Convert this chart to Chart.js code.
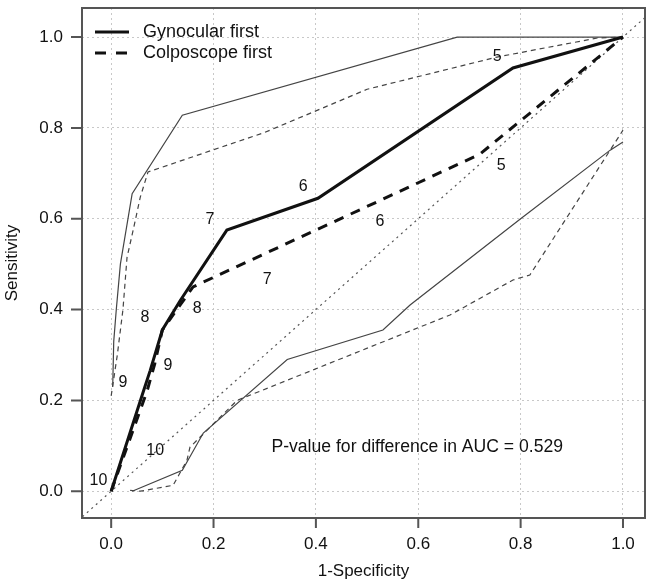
<!doctype html>
<html lang="en">
  <head>
    <meta charset="utf-8">
    <script src="https://cdn.jsdelivr.net/npm/chart.js@4.4.0/dist/chart.umd.min.js"></script>
    <title>ROC</title>
    <style>
      body { margin: 0; background: #fff; }
      #wrap { width: 650px; height: 584px; }
    </style>
  </head>
  <body>
    <div id="wrap"><canvas id="roc" width="650" height="584"></canvas></div>

  <script>
    // main ROC curves
    let gynX = [0, 0.063, 0.076, 0.1, 0.135, 0.226, 0.404, 0.785, 1];
    let gynY = [0, 0.22, 0.265, 0.355, 0.42, 0.575, 0.645, 0.932, 1];
    let colX = [0, 0.07, 0.085, 0.1, 0.16, 0.3, 0.525, 0.72, 1];
    let colY = [0, 0.22, 0.28, 0.355, 0.45, 0.523, 0.64, 0.742, 1];

    // confidence bands
    let gynUpX = [0.003, 0.005, 0.01, 0.018, 0.041, 0.139, 0.676, 1];
    let gynUpY = [0.23, 0.33, 0.4, 0.5, 0.655, 0.828, 1, 1];
    let colUpX = [0, 0.012, 0.023, 0.031, 0.043, 0.057, 0.072, 0.3, 0.5, 0.754, 0.95, 1];
    let colUpY = [0.21, 0.3, 0.4, 0.515, 0.575, 0.648, 0.703, 0.79, 0.885, 0.956, 0.998, 1];
    let gynLoX = [0.041, 0.139, 0.18, 0.344, 0.531, 0.584, 0.8, 0.975, 1];
    let gynLoY = [0, 0.046, 0.128, 0.29, 0.355, 0.41, 0.6, 0.751, 0.769];
    let colLoX = [0.037, 0.057, 0.121, 0.148, 0.154, 0.246, 0.662, 0.785, 0.818, 1];
    let colLoY = [0.002, 0, 0.013, 0.068, 0.097, 0.2, 0.388, 0.465, 0.476, 0.795];

    // chance line
    let diagX = [-0.1, 1.1];
    let diagY = [-0.1, 1.1];

    // cut-off labels
    let gynLabText = ['10', '9', '8', '7', '6', '5'];
    let gynLabX = [-0.025, 0.111, 0.066, 0.193, 0.375, 0.754];
    let gynLabY = [0.024, 0.277, 0.383, 0.597, 0.67, 0.958];
    let colLabText = ['10', '9', '8', '7', '6', '5'];
    let colLabX = [0.086, 0.023, 0.168, 0.305, 0.525, 0.762];
    let colLabY = [0.09, 0.24, 0.403, 0.465, 0.593, 0.718];

    let tickVals = [0, 0.2, 0.4, 0.6, 0.8, 1.0];
    let pText = 'P-value for difference in AUC = 0.529';

    const FONT = "'Liberation Sans', Arial, sans-serif";

    const pts = (xs, ys) => xs.map((x, i) => ({ x: x, y: ys[i] }));

    const line = (label, xs, ys, w, dash, color) => ({
      label: label,
      data: pts(xs, ys),
      showLine: true,
      borderColor: color,
      borderWidth: w,
      borderDash: dash,
      pointRadius: 0,
      fill: false,
      tension: 0
    });

    const noPad = s => { s.paddingTop = 0; s.paddingBottom = 0; s.paddingLeft = 0; s.paddingRight = 0; };

    // box, ticks, number labels, legend, p-value
    const extras = {
      id: 'extras',
      afterDraw(chart) {
        const ctx = chart.ctx;
        const a = chart.chartArea;
        const sx = chart.scales.x, sy = chart.scales.y;
        ctx.save();
        ctx.strokeStyle = '#555';
        ctx.lineWidth = 2;
        ctx.setLineDash([]);
        ctx.strokeRect(a.left, a.top, a.right - a.left, a.bottom - a.top);
        ctx.beginPath();
        tickVals.forEach(v => {
          let px = sx.getPixelForValue(v);
          ctx.moveTo(px, a.bottom); ctx.lineTo(px, a.bottom + 10);
          let py = sy.getPixelForValue(v);
          ctx.moveTo(a.left, py); ctx.lineTo(a.left - 11, py);
        });
        ctx.stroke();

        ctx.fillStyle = '#111';
        ctx.font = '16px ' + FONT;
        ctx.textAlign = 'center';
        ctx.textBaseline = 'middle';
        gynLabText.forEach((t, i) => ctx.fillText(t, sx.getPixelForValue(gynLabX[i]), sy.getPixelForValue(gynLabY[i])));
        colLabText.forEach((t, i) => ctx.fillText(t, sx.getPixelForValue(colLabX[i]), sy.getPixelForValue(colLabY[i])));

        ctx.font = '17.6px ' + FONT;
        ctx.fillText(pText, sx.getPixelForValue(0.598), sy.getPixelForValue(0.097));

        // legend
        ctx.font = '18px ' + FONT;
        ctx.textAlign = 'left';
        ctx.lineWidth = 3;
        ctx.strokeStyle = '#111';
        [0, 1].forEach(k => {
          let y = a.top + 24 + k * 21;
          ctx.setLineDash(k ? [11, 10] : []);
          ctx.beginPath();
          ctx.moveTo(a.left + 13, y); ctx.lineTo(a.left + 47, y);
          ctx.stroke();
          ctx.fillText(chart.data.datasets[k].label, a.left + 61, y);
        });
        ctx.restore();
      }
    };

    let canvas = document.getElementById('roc').getContext('2d');

    var chart = new Chart(canvas, {
      type: 'scatter',
      data: {
        datasets: [
          line('Gynocular first', gynX, gynY, 3, [], '#111'),
          line('Colposcope first', colX, colY, 3, [10, 8], '#111'),
          line('', gynUpX, gynUpY, 1.2, [], '#444'),
          line('', gynLoX, gynLoY, 1.2, [], '#444'),
          line('', colUpX, colUpY, 1.2, [5, 4], '#444'),
          line('', colLoX, colLoY, 1.2, [5, 4], '#444'),
          line('', diagX, diagY, 1.2, [2, 4], '#555')
        ]
      },
      options: {
        responsive: false,
        animation: false,
        layout: { padding: { top: 8, right: 5, left: 0, bottom: 0 } },
        plugins: { legend: { display: false }, tooltip: { enabled: false } },
        scales: {
          x: {
            type: 'linear',
            min: -0.057,
            max: 1.043,
            afterBuildTicks: s => { s.ticks = tickVals.map(v => ({ value: v })); },
            afterFit: s => { s.height = 66; noPad(s); },
            grid: { color: '#c8c8c8', lineWidth: 1, drawTicks: false },
            border: { display: false, dash: [2, 3] },
            ticks: { padding: 16, color: '#111', font: { family: FONT, size: 17 }, callback: v => v.toFixed(1) },
            title: { display: true, text: '1-Specificity', color: '#111', font: { family: FONT, size: 17 }, padding: { top: 4, bottom: 2 } }
          },
          y: {
            type: 'linear',
            min: -0.059,
            max: 1.064,
            afterBuildTicks: s => { s.ticks = tickVals.map(v => ({ value: v })); },
            afterFit: s => { s.width = 82; noPad(s); },
            grid: { color: '#c8c8c8', lineWidth: 1, drawTicks: false },
            border: { display: false, dash: [2, 3] },
            ticks: { padding: 19, color: '#111', font: { family: FONT, size: 17 }, callback: v => v.toFixed(1) },
            title: { display: true, text: 'Sensitivity', color: '#111', font: { family: FONT, size: 17 }, padding: { top: 2, bottom: 4 } }
          }
        }
      },
      plugins: [extras]
    });
  </script>
  </body>
</html>
